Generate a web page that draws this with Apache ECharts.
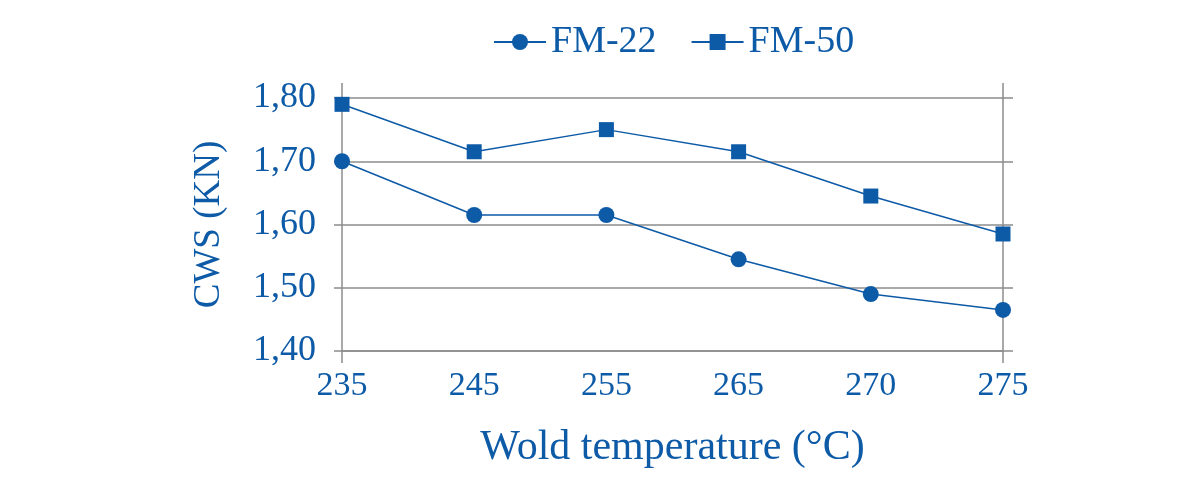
<!doctype html>
<html>
<head>
    <meta charset="utf-8">
    <title>CWS vs weld temperature</title>
    <script src="https://cdn.jsdelivr.net/npm/echarts@6/dist/echarts.min.js"></script>
</head>
<body style="margin:0;background:#fff;">

    <div id="main" style="width:1200px;height:480px;"></div>

    <script type="text/javascript">
        var temps = ['235', '245', '255', '265', '270', '275'];
        var fm22 = [1.70, 1.615, 1.615, 1.545, 1.49, 1.465];
        var fm50 = [1.79, 1.715, 1.75, 1.715, 1.645, 1.585];

        var blue = '#0d5aa7';
        var gray = '#8c8c8c';
        var font = '"Liberation Serif", "Times New Roman", serif';

        // only the first and last category get a tick (the framing vertical lines)
        function edgeOnly(index) {
            return index === 0 || index === temps.length - 1;
        }

        var chart = echarts.init(document.getElementById('main'));

        var option = {
            textStyle: { fontFamily: font, color: blue },
            legend: {
                top: 18,
                left: 488,
                itemWidth: 52,
                itemHeight: 20,
                itemGap: 34,
                textStyle: { fontFamily: font, fontSize: 38, color: blue },
                data: ['FM-22', 'FM-50']
            },
            grid: {
                left: 342,
                right: 197,
                top: 98,
                bottom: 129
            },
            xAxis: [{
                type: 'category',
                data: temps,
                boundaryGap: false,
                name: 'Wold temperature (°C)',
                nameLocation: 'middle',
                nameGap: 76,
                nameTextStyle: { fontFamily: font, fontSize: 42, color: blue },
                axisLine: { show: true, lineStyle: { color: gray, width: 1.5 } },
                axisTick: { show: true, interval: edgeOnly, length: 12, inside: false,
                    lineStyle: { color: gray, width: 1.5 } },
                axisLabel: { margin: 18, fontSize: 34, color: blue, fontFamily: font },
                splitLine: { show: false }
            }, {
                type: 'category',
                data: temps,
                boundaryGap: false,
                position: 'top',
                axisLine: { show: false },
                axisTick: { show: true, interval: edgeOnly, length: 15, inside: false,
                    lineStyle: { color: gray, width: 1.5 } },
                axisLabel: { show: false },
                splitLine: { show: false }
            }],
            yAxis: [{
                type: 'value',
                min: 1.4,
                max: 1.8,
                interval: 0.1,
                name: 'CWS (KN)',
                nameLocation: 'middle',
                nameRotate: 90,
                nameGap: 114,
                nameTextStyle: { fontFamily: font, fontSize: 37, color: blue },
                axisLine: { show: true, lineStyle: { color: gray, width: 1.5 } },
                axisTick: { show: true, length: 8, inside: false,
                    lineStyle: { color: gray, width: 1.5 } },
                axisLabel: {
                    margin: 26,
                    fontSize: 36,
                    color: blue,
                    fontFamily: font,
                    formatter: function (v) { return v.toFixed(2).replace('.', ','); }
                },
                splitLine: { show: true, lineStyle: { color: gray, width: 1.5 } }
            }, {
                type: 'value',
                min: 1.4,
                max: 1.8,
                interval: 0.1,
                position: 'right',
                axisLine: { show: true, lineStyle: { color: gray, width: 1.5 } },
                axisTick: { show: true, length: 10, inside: false,
                    lineStyle: { color: gray, width: 1.5 } },
                axisLabel: { show: false },
                splitLine: { show: false }
            }],
            series: [{
                name: 'FM-22',
                type: 'line',
                data: fm22,
                symbol: 'circle',
                symbolSize: 16,
                itemStyle: { color: blue },
                lineStyle: { color: blue, width: 1.5 }
            }, {
                name: 'FM-50',
                type: 'line',
                data: fm50,
                symbol: 'rect',
                symbolSize: 15,
                itemStyle: { color: blue },
                lineStyle: { color: blue, width: 1.5 }
            }],
            animation: false
        };

        chart.setOption(option);
    </script>
</body>
</html>
